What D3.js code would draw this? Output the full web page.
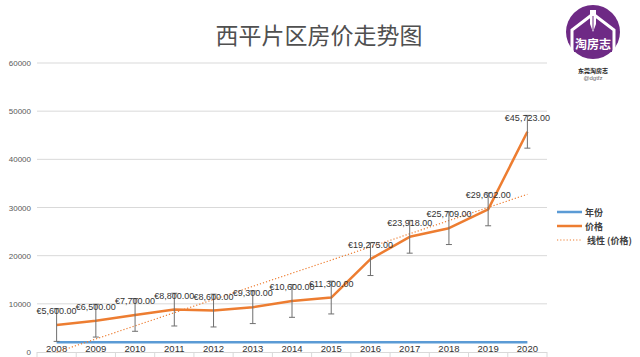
<!DOCTYPE html>
<html><head><meta charset="utf-8">
<script src="https://cdn.jsdelivr.net/npm/d3@7/dist/d3.min.js"></script>
<style>html,body{margin:0;padding:0;background:#fff;}svg{display:block;}</style>
</head><body><svg id="c" width="640" height="357"></svg>
<script>
const years = [2008,2009,2010,2011,2012,2013,2014,2015,2016,2017,2018,2019,2020];
const prices = [5600,6500,7700,8800,8600,9300,10600,11300,19275,23918,25709,29602,45723];
const priceLabels = ["€5,600.00","€6,500.00","€7,700.00","€8,800.00","€8,600.00","€9,300.00","€10,600.00","€11,300.00","€19,275.00","€23,918.00","€25,709.00","€29,602.00","€45,723.00"];
const errorAmount = 3400;
const trendYears = [2008, 2020];
const trendValues = [-30, 32740];
const yTicks = [0,10000,20000,30000,40000,50000,60000];
const title = "西平片区房价走势图";
const legendItems = ["年份","价格","线性 (价格)"];

const svg = d3.select("#c");
svg.append("rect").attr("width",640).attr("height",357).attr("fill","#fff");

const x = d3.scaleBand().domain(years).range([37,547]).padding(0);
const cx = d => x(d) + x.bandwidth()/2;
const y = d3.scaleLinear().domain([0,60000]).range([352,63]);

// gridlines
svg.append("g").selectAll("line").data(yTicks.filter(t=>t>0)).join("line")
  .attr("x1",37).attr("x2",547).attr("y1",d=>y(d)).attr("y2",d=>y(d))
  .attr("stroke","#d9d9d9").attr("stroke-width",1);
// y axis labels
svg.append("g").selectAll("text").data(yTicks).join("text")
  .attr("x",31).attr("y",d=>y(d)+3).attr("text-anchor","end")
  .attr("font-family","Liberation Sans, Arial, sans-serif").attr("font-size",8)
  .attr("fill","#595959").text(d=>d);

// x axis baseline & ticks
svg.append("line").attr("x1",37).attr("x2",547).attr("y1",352.5).attr("y2",352.5)
  .attr("stroke","#d9d9d9").attr("stroke-width",1);
svg.append("g").selectAll("line").data(years.concat([null])).join("line")
  .attr("x1",(d,i)=>37+i*x.bandwidth()).attr("x2",(d,i)=>37+i*x.bandwidth())
  .attr("y1",352).attr("y2",357).attr("stroke","#d9d9d9");

// year series (blue)
svg.append("path").datum(years)
  .attr("d", d3.line().x(d=>cx(d)).y(d=>y(d)))
  .attr("fill","none").attr("stroke","#5B9BD5").attr("stroke-width",2.5);

// x labels
svg.append("g").selectAll("text").data(years).join("text")
  .attr("x",d=>cx(d)).attr("y",351.5).attr("text-anchor","middle")
  .attr("font-family","Liberation Sans, Arial, sans-serif").attr("font-size",9.5)
  .attr("fill","#333").text(d=>d);

// trend line
svg.append("path").datum(trendYears.map((t,i)=>[t,trendValues[i]]))
  .attr("d", d3.line().x(d=>cx(d[0])).y(d=>y(d[1])))
  .attr("fill","none").attr("stroke","#ED7D31").attr("stroke-width",1.2)
  .attr("stroke-dasharray","1.2,2");

// price line
svg.append("path").datum(years.map((t,i)=>[t,prices[i]]))
  .attr("d", d3.line().x(d=>cx(d[0])).y(d=>y(d[1])))
  .attr("fill","none").attr("stroke","#ED7D31").attr("stroke-width",2.5)
  .attr("stroke-linejoin","round");

// error bars
const eb = svg.append("g").attr("stroke","#6f6f6f").attr("stroke-width",1);
years.forEach((t,i)=>{
  const xx = cx(t), top = y(prices[i]+errorAmount), bot = y(prices[i]-errorAmount);
  eb.append("line").attr("x1",xx).attr("x2",xx).attr("y1",top).attr("y2",bot);
  eb.append("line").attr("x1",xx-3).attr("x2",xx+3).attr("y1",top).attr("y2",top);
  eb.append("line").attr("x1",xx-3).attr("x2",xx+3).attr("y1",bot).attr("y2",bot);
});

// data labels
svg.append("g").selectAll("text").data(years).join("text")
  .attr("x",d=>cx(d)).attr("y",(d,i)=>y(prices[i])-11).attr("text-anchor","middle")
  .attr("font-family","Liberation Sans, Arial, sans-serif").attr("font-size",9)
  .attr("fill","#333").text((d,i)=>priceLabels[i]);

// title
svg.append("text").attr("x",319).attr("y",44).attr("text-anchor","middle")
  .attr("font-family","Noto Sans CJK SC, sans-serif").attr("font-size",23)
  .attr("fill","#505050").text(title);

// legend
const lg = svg.append("g").attr("font-family","Noto Sans CJK SC, sans-serif")
  .attr("font-size",9).attr("font-weight","bold").attr("fill","#404040");
const lgY = [212,226,240];
const lgStyles = [{c:"#5B9BD5",w:2.5,d:null},{c:"#ED7D31",w:2.5,d:null},{c:"#ED7D31",w:1.2,d:"1.2,2"}];
legendItems.forEach((t,i)=>{
  const l = lg.append("line").attr("x1",557).attr("x2",582).attr("y1",lgY[i]).attr("y2",lgY[i])
    .attr("stroke",lgStyles[i].c).attr("stroke-width",lgStyles[i].w);
  if (lgStyles[i].d) l.attr("stroke-dasharray",lgStyles[i].d);
  lg.append("text").attr("x", i==2?587:585).attr("y",lgY[i]+3.5).text(t);
});

// logo
const logo = svg.append("g");
logo.append("circle").attr("cx",593).attr("cy",32).attr("r",27).attr("fill","#6E2A85");
logo.append("path").attr("d","M572,56 L572,30 L593,14 L614,30 L614,56")
  .attr("fill","none").attr("stroke","#fff").attr("stroke-width",3);
logo.append("path").attr("d","M590,10 L596,10 L596,24 L593,32 L590,24 Z")
  .attr("fill","#fff");
logo.append("line").attr("x1",593).attr("x2",593).attr("y1",16).attr("y2",30)
  .attr("stroke","#6E2A85").attr("stroke-width",1);
logo.append("rect").attr("x",574).attr("y",36).attr("width",38).attr("height",16).attr("fill","#6E2A85");
logo.append("text").attr("x",593).attr("y",49).attr("text-anchor","middle")
  .attr("font-family","Noto Sans CJK SC, sans-serif").attr("font-weight","bold")
  .attr("font-size",12).attr("fill","#fff").text("淘房志");
logo.append("text").attr("x",593).attr("y",73).attr("text-anchor","middle")
  .attr("font-family","Noto Sans CJK SC, sans-serif").attr("font-weight","bold")
  .attr("font-size",6).attr("fill","#222").text("东莞淘房志");
logo.append("text").attr("x",593).attr("y",80).attr("text-anchor","middle")
  .attr("font-family","Liberation Sans, Arial, sans-serif")
  .attr("font-size",6).attr("fill","#666").text("@dgtfz");
</script></body></html>
